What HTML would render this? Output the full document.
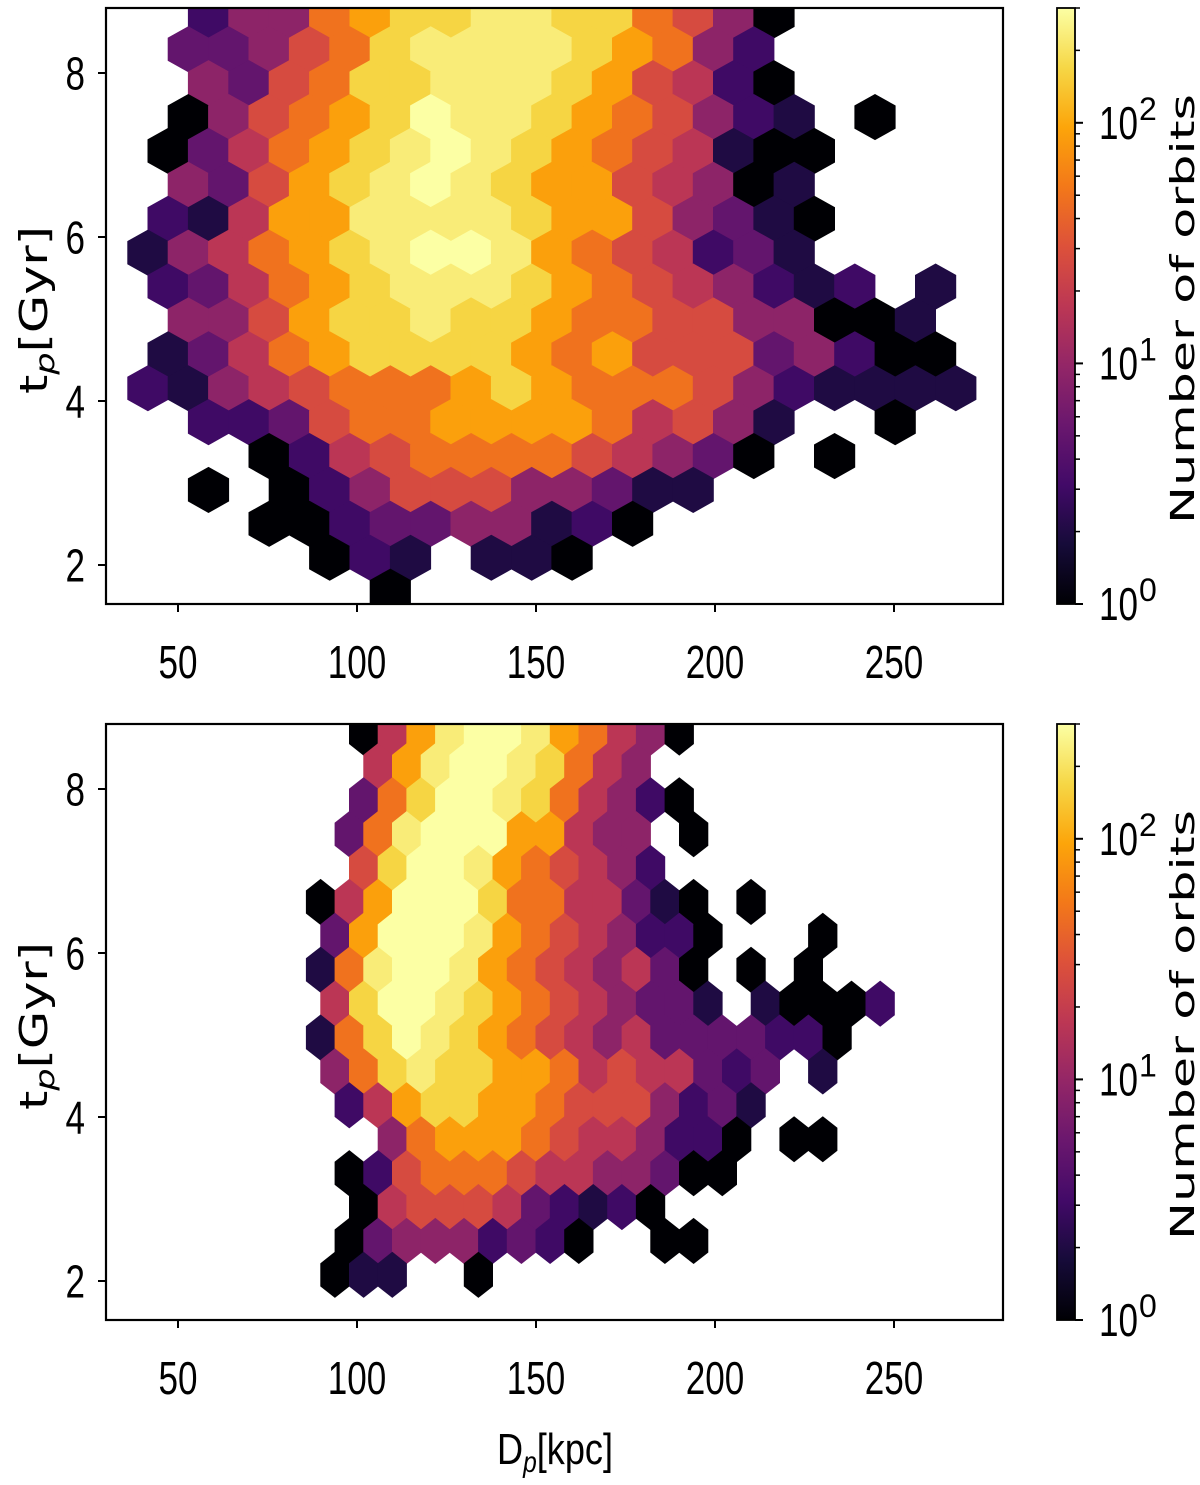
<!DOCTYPE html>
<html><head><meta charset="utf-8"><style>
html,body{margin:0;padding:0;background:#fff}
svg{display:block}
text{font-family:"Liberation Sans","DejaVu Sans",sans-serif;fill:#000}
</style></head><body>
<svg id="fig" width="1200" height="1485" viewBox="0 0 1200 1485" xmlns="http://www.w3.org/2000/svg">
<defs>
<clipPath id="clipTop"><rect x="106" y="8" width="897" height="596"/></clipPath>
<clipPath id="clipBot"><rect x="106" y="724" width="897" height="596"/></clipPath>
<linearGradient id="infernoGrad" x1="0" y1="1" x2="0" y2="0">
<stop offset="0" stop-color="#000004"/><stop offset="0.1" stop-color="#160b39"/><stop offset="0.2" stop-color="#420a68"/><stop offset="0.3" stop-color="#6a176e"/><stop offset="0.4" stop-color="#932667"/><stop offset="0.5" stop-color="#bc3754"/><stop offset="0.6" stop-color="#dd513a"/><stop offset="0.7" stop-color="#f37819"/><stop offset="0.8" stop-color="#fca50a"/><stop offset="0.9" stop-color="#f6d746"/><stop offset="1" stop-color="#fcffa4"/>
</linearGradient>
</defs>
<g id="root"></g>
</svg>
<script>
// ---- data ----
// count per colour level code (0..B)
const levelCounts = [1,2,3,5,9,17,27,50,90,165,230,300];
// top panel: rows of hex counts (level codes), row index b=-3..14 (t decreasing)
const topRows = [
"..2447899AA997640.....",
".334679AAAA98742......",
"..436799AAA986520.....",
".046789BAA9876421.0...",
".035789ABA98765100....",
".43689ABA98865401.....",
".21588AAAA98864310....",
"145789ABBA8765231.....",
".235789AAA987654212.1.",
".446899A998776644001..",
".13578999987866634200.",
"214567778987776421111.",
"..223677888875641..0..",
"...0256777765430.0....",
"..0.02466644311.......",
"...0023344120.........",
".....021.110..........",
"......0..............."
];
// bottom panel rows, b=-5..11
const botRows = [
".058ABBA87540........",
"..58ABBA9754..........",
".379BBA975420........",
".37ABBB88544.0........",
".69BBA876542.........",
"058BBB97755310.0......",
"38BBBA87654220...0...",
"17ABBA87654530.0.0....",
"59BBA987654331.10002.",
"179BA98765453333220...",
"479A998875655323.1...",
".258998876664231......",
"..4788876554220.00...",
".02677765544300.......",
".05666532120.........",
".034442320..00........",
"011..0..............."
];
const xTicks = [50,100,150,200,250];
const yTicks = [2,4,6,8];
const cbMajor = [1,10,100];
const cbMinor = [2,3,4,5,6,7,8,9,20,30,40,50,60,70,80,90,200,300];
const vmax = 300;

// ---- scales ----
const NS="http://www.w3.org/2000/svg";
const root=document.getElementById('root');
function xS(D){return 178+(D-50)*3.58;}
function yS(t,top){return top+65+(8-t)*82;}
const stops=[[0,0,0,4],[.1,22,11,57],[.2,66,10,104],[.3,106,23,110],[.4,147,38,103],[.5,188,55,84],[.6,221,81,58],[.7,243,120,25],[.8,252,165,10],[.9,246,215,70],[1,252,255,164]];
function inferno(f){f=Math.max(0,Math.min(1,f));for(let i=1;i<stops.length;i++){if(f<=stops[i][0]){const a=stops[i-1],b=stops[i],u=(f-a[0])/(b[0]-a[0]);return 'rgb('+[1,2,3].map(k=>Math.round(a[k]+u*(b[k]-a[k]))).join(',')+')';}}return 'rgb(252,255,164)';}
function el(tag,attrs,parent){const e=document.createElementNS(NS,tag);for(const k in attrs)e.setAttribute(k,attrs[k]);(parent||root).appendChild(e);return e;}

function drawPanel(rows,opt){
  const g=el('g',{'clip-path':'url(#'+opt.clip+')'});
  
  
  const hx=xS(opt.D0+opt.dD)-xS(opt.D0);
  const rowPx=yS(0,opt.top)-yS(opt.dt,opt.top);
  const sy=rowPx*2;
  rows.forEach((row,ri)=>{
    const b=opt.b0+ri;
    const odd=Math.abs(b)%2===1;
    const a0=odd?opt.aOdd:opt.aEven;
    for(let i=0;i<row.length;i++){
      const c=row[i]; if(c==='.')continue;
      const code=parseInt(c,16);
      const cnt=levelCounts[code];
      const a=a0+2*i;
      const D=opt.D0+a*opt.dD, t=opt.t0-b*opt.dt;
      const cx=xS(D), cy=yS(t,opt.top);
      const pts=[[hx,-sy/6],[hx,sy/6],[0,sy/3],[-hx,sy/6],[-hx,-sy/6],[0,-sy/3]].map(p=>(cx+p[0]*1.02).toFixed(1)+','+(cy+p[1]*1.02).toFixed(1)).join(' ');
      const h=el('polygon',{points:pts,fill:inferno(Math.log10(cnt)/Math.log10(vmax))},g);
      
      
    }
  });
  const fr=el('rect',{x:106,y:opt.top,width:897,height:596,fill:'none',stroke:'#000','stroke-width':2.2});
  
  
  xTicks.forEach(v=>{
    const x=xS(v);
    el('line',{x1:x,x2:x,y1:opt.top+596,y2:opt.top+604,stroke:'#000','stroke-width':2});
    const tx=el('text',{x:x,y:opt.top+670,'text-anchor':'middle','font-size':46,textLength:String(v).length*19.5,lengthAdjust:'spacingAndGlyphs'});
    tx.textContent=v;
    
    
  });
  yTicks.forEach(v=>{
    const y=yS(v,opt.top);
    el('line',{x1:98,x2:106,y1:y,y2:y,stroke:'#000','stroke-width':2});
    const tx=el('text',{x:85,y:y+16.5,'text-anchor':'end','font-size':46,textLength:19.5,lengthAdjust:'spacingAndGlyphs'});
    tx.textContent=v;
    
    
  });
  const yl=el('text',{transform:'translate(47,'+(opt.top+302)+') rotate(-90)','text-anchor':'middle','font-size':38,textLength:168,lengthAdjust:'spacingAndGlyphs',style:'font-family:"DejaVu Sans",sans-serif'});
  yl.innerHTML='t<tspan font-style="italic" font-size="27" dy="7">p</tspan><tspan dy="-7">[Gyr]</tspan>';
  
  
  const cbTop=opt.top, cbH=596, cbX=1057;
  const cb=el('rect',{x:cbX,y:cbTop,width:18,height:cbH,fill:'url(#infernoGrad)',stroke:'#000','stroke-width':1.8});
  
  
  const cy=v=>cbTop+cbH-Math.log10(v)/Math.log10(vmax)*cbH;
  cbMinor.forEach(v=>{el('line',{x1:cbX+18,x2:cbX+23,y1:cy(v),y2:cy(v),stroke:'#000','stroke-width':1.5});});
  cbMajor.forEach((v,i)=>{
    const y=cy(v);
    el('line',{x1:cbX+18,x2:cbX+26,y1:y,y2:y,stroke:'#000','stroke-width':2});
    const tx=el('text',{x:1099,y:y+16,'font-size':46});
    tx.innerHTML='<tspan textLength="39" lengthAdjust="spacingAndGlyphs">10</tspan><tspan font-size="32" dy="-19" dx="1">'+i+'</tspan>';
    
    
  });
  const cl=el('text',{transform:'translate(1194,'+(opt.top+301)+') rotate(-90)','text-anchor':'middle','font-size':33,textLength:430,lengthAdjust:'spacingAndGlyphs',style:'font-family:"DejaVu Sans",sans-serif'});
  cl.textContent='Number of orbits';
  
  
}
drawPanel(topRows,{name:'top-panel',clip:'clipTop',top:8,D0:244.7,dD:5.642,t0:7.463,dt:0.4134,b0:-3,aOdd:-37,aEven:-36});
drawPanel(botRows,{name:'bottom-panel',clip:'clipBot',top:724,D0:210.06,dD:4.008,t0:6.622,dt:0.4134,b0:-5,aOdd:-29,aEven:-30});
const xl=el('text',{x:555,y:1464,'text-anchor':'middle','font-size':44,textLength:116,lengthAdjust:'spacingAndGlyphs'});
xl.innerHTML='D<tspan font-style="italic" font-size="30" dy="8">p</tspan><tspan dy="-8">[kpc]</tspan>';


</script>
</body></html>
